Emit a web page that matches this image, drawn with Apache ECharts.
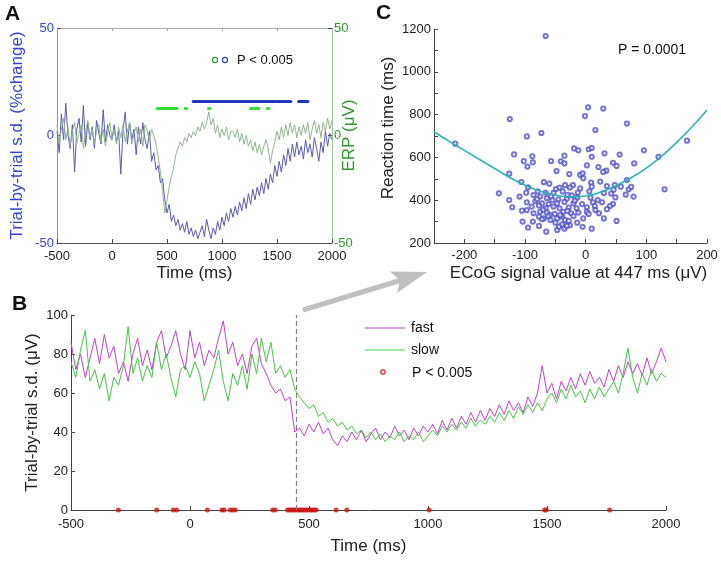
<!DOCTYPE html>
<html>
<head>
<meta charset="utf-8">
<script src="https://cdn.jsdelivr.net/npm/echarts@6/dist/echarts.min.js"></script>
<style>
  html, body { margin: 0; padding: 0; background: #fff; }
  #main { width: 721px; height: 562px; }
</style>
</head>
<body>
<div id="main"></div>
<script>
// ---- panel A : trial-by-trial s.d. (%change) and ERP, sampled every 20 ms from -500 ms
var startA = -500, stepA = 20;
var sdA = [
  2, -8, 10, -2, 15, 0, -6, 5, -17, 3,
  8, -3, 14, -5, 6, -2, 4, -6, 7, 1,
  -4, 12, -3, 5, 0, -2, 5, -3, 2, -18,
  2, 11, -4, 6, -2, 3, -9, 4, -4, 6,
  -2, -6, 2, -12, -8, -16, -14, -22, -20, -30,
  -36, -32, -40, -37, -42, -39, -44, -41, -45, -40,
  -46, -43, -47, -44, -48, -45, -42, -47, -39, -44,
  -48, -43, -46, -40, -44, -38, -42, -36, -40, -34,
  -38, -33, -37, -31, -35, -29, -34, -27, -32, -25,
  -30, -24, -28, -22, -27, -20, -25, -18, -22, -14,
  -19, -12, -17, -9, -14, -6, -12, -4, -10, -3,
  -9, -5, -11, -2, -8, -4, -10, -1, -6, -12,
  -3, -8, 2, -5, 1, -2
];
var erpA = [
  5, -4, 3, 8, -2, 4, -5, 2, 6, -3,
  1, 5, -6, 2, 7, -1, 3, -4, 2, 5,
  -3, 3, -5, 1, 6, -2, 3, -4, 4, -1,
  5, -3, 2, 6, -4, 1, 4, -3, 3, -5,
  5, 2, -2, 3, 0, -4, -10, -17, -26, -36,
  -30, -24, -19, -15, -9, -6, -3, -5, -1, -3,
  1, -1, 2, 0, 4, 2, 6, 3, 6, 11,
  5, 8, 1, 5, -1, 3, 0, 4, -2, 2,
  2, -1, 3, -3, 1, -4, 0, -5, -2, -7,
  -3, -8, -4, -9, -5, -2, -6, -13, -7, -3,
  2, -2, 4, -1, 5, 0, 6, 1, 5, -1,
  4, 0, 5, 1, 6, -2, 3, 7, 1, 5,
  -1, 6, 2, 8, 3, 7
];
// significant periods (ms) and the level they are drawn at
var sigErpA = [[411, 592], [665, 677], [878, 890], [1259, 1290], [1305, 1337], [1413, 1425]];
var sigSdA = [[738, 1488], [1504, 1625], [1697, 1782]];
var sigErpLevel = 12.7, sigSdLevel = 15.7;

// ---- panel C : ECoG value at 447 ms vs reaction time
var rtPoints = [
  [-66, 1167], [4, 834], [29, 828], [-1, 793], [-125, 779], [68, 758], [16, 728], [-73, 714],
  [-97, 698], [-215, 664], [167, 678], [96, 633], [-19, 642], [-12, 633], [5, 638], [10, 644],
  [-118, 614], [-35, 608], [31, 619], [56, 613], [10, 603], [120, 603], [-88, 605], [-102, 583],
  [-87, 577], [-57, 583], [-41, 582], [-35, 572], [2, 563], [21, 555], [34, 538], [45, 575],
  [51, 560], [80, 572], [-96, 557], [-126, 524], [-48, 536], [-27, 522], [-9, 518], [-5, 525],
  [29, 532], [-4, 502], [24, 487], [68, 494], [-69, 484], [-60, 477], [-21, 470], [-34, 470],
  [9, 482], [10, 463], [35, 466], [46, 449], [48, 470], [58, 463], [71, 451], [75, 462],
  [130, 451], [-49, 452], [-43, 459], [-26, 459], [-9, 455], [-13, 435], [-106, 485], [-95, 460],
  [-98, 435], [-79, 441], [-66, 435], [-53, 434], [-38, 441], [-23, 423], [6, 441], [30, 434],
  [42, 431], [66, 426], [-143, 432], [-126, 401], [-109, 417], [-86, 424], [-75, 417], [-64, 409],
  [-55, 401], [-45, 404], [-31, 407], [-14, 412], [8, 412], [20, 401], [49, 413], [79, 417],
  [-97, 390], [-83, 395], [-72, 385], [-61, 382], [-47, 384], [-35, 392], [-20, 385], [-6, 382],
  [12, 390], [27, 390], [45, 382], [-89, 370], [-77, 375], [-66, 362], [-53, 370], [-43, 362],
  [-28, 365], [-15, 362], [2, 367], [15, 373], [40, 373], [-121, 367], [-105, 351], [-97, 354],
  [-86, 339], [-75, 346], [-64, 342], [-51, 336], [-37, 346], [-24, 339], [-12, 342], [2, 345],
  [-77, 323], [-69, 315], [-59, 331], [-47, 315], [-39, 323], [-34, 308], [-20, 326], [-4, 315],
  [5, 336], [30, 315], [51, 303], [-87, 300], [-72, 311], [-50, 295], [-39, 287], [-28, 303],
  [-14, 295], [-104, 300], [-95, 272], [-77, 280], [-65, 253], [-47, 261], [-35, 267], [-26, 283],
  [-5, 276], [10, 267], [-31, 280], [-44, 276], [-58, 308], [16, 354], [22, 339], [35, 358],
  [-80, 405], [-57, 418], [-30, 425], [-18, 398], [-70, 355], [-42, 330], [-30, 350], [-62, 325]
];
// fitted curve, every 25 µV
var fitX = [-250, -225, -200, -175, -150, -125, -100, -75, -50, -25, 0, 25, 50, 75, 100, 125, 150, 175, 200];
var fitY = [720, 675, 633, 590, 548, 506, 470, 442, 424, 416, 420, 438, 468, 505, 550, 605, 670, 742, 822];

// ---- panel B : fast vs slow trials, sampled every 20 ms from -500 ms
var startB = -500, stepB = 20;
var fastB = [
  86, 72, 80, 68, 78, 88, 75, 90, 78, 84,
  70, 76, 66, 80, 88, 74, 82, 72, 86, 92,
  78, 84, 92, 80, 72, 92, 78, 86, 74, 82,
  78, 88, 97, 80, 86, 74, 80, 70, 84, 88,
  75, 70, 64, 60, 62, 56, 58, 40, 42, 38,
  44, 40, 45, 39, 42, 36, 33, 38, 35, 40,
  36, 41, 35, 39, 42, 36, 40, 37, 43, 38,
  41, 36, 42, 38, 43, 40, 44, 39, 46, 41,
  47, 42, 48, 44, 50, 45, 51, 46, 52, 48,
  54, 49, 56, 51, 55, 50, 58, 53, 60, 74,
  60, 65, 57, 66, 61, 68, 62, 70, 64, 71,
  65, 68, 63, 72, 66, 74, 68, 76, 70, 75,
  69, 78, 70, 76, 83, 76
];
var slowB = [
  76, 68, 82, 92, 66, 72, 62, 70, 56, 68,
  64, 74, 94, 70, 78, 66, 74, 68, 86, 72,
  80, 68, 58, 72, 74, 68, 76, 70, 56, 64,
  72, 82, 66, 56, 70, 64, 74, 62, 80, 70,
  88, 76, 86, 70, 74, 68, 72, 62, 58, 55,
  52, 54, 48, 50, 45, 47, 43, 45, 41, 43,
  39, 41, 37, 40, 36, 39, 35, 38, 36, 40,
  35, 38, 36, 40, 35, 38, 41, 38, 43, 40,
  44, 41, 45, 42, 47, 43, 46, 44, 48, 45,
  50, 46, 51, 47, 53, 49, 54, 50, 55, 51,
  57, 60, 55, 62, 57, 64, 58, 61, 55, 62,
  57, 63, 58, 62, 66, 60, 70, 83, 68, 60,
  70, 64, 72, 66, 70, 68
];
var sigTimesB = [-301, -140, -70, -56, 73, 134, 143, 169, 180, 190, 348, 358,
  410, 418, 426, 434, 442, 450, 458, 466, 474, 482, 490, 498, 506, 514, 522, 530,
  614, 659, 1005, 1490, 1497, 1763];
var markTime = 447;

var FONT = 'Liberation Sans, Arial, sans-serif';

function pairs(start, step, vals) {
  return vals.map(function (v, i) { return [start + i * step, v]; });
}
function segs(list, level) {
  return list.map(function (s) { return { coords: [[s[0], level], [s[1], level]] }; });
}
function plain(v) { return String(v); }

function xAx(grid, min, max, interval, name, extra) {
  var a = {
    type: 'value', gridIndex: grid, min: min, max: max, interval: interval,
    name: name, nameLocation: 'middle', nameGap: 22, nameMoveOverlap: false,
    nameTextStyle: { fontFamily: FONT, fontSize: 17, color: '#222' },
    axisLine: { onZero: false, lineStyle: { color: '#444', width: 1 } },
    axisTick: { inside: true, length: 4, lineStyle: { color: '#444' } },
    axisLabel: { fontFamily: FONT, fontSize: 13, color: '#222', margin: 7, formatter: plain },
    splitLine: { show: false }
  };
  return Object.assign(a, extra || {});
}
function yAx(grid, min, max, interval, name, gap, color, extra) {
  var a = {
    type: 'value', gridIndex: grid, min: min, max: max, interval: interval,
    name: name, nameLocation: 'middle', nameGap: gap, nameRotate: 90, nameMoveOverlap: false,
    nameTextStyle: { fontFamily: FONT, fontSize: 17, color: color },
    axisLine: { show: true, onZero: false, lineStyle: { color: '#444', width: 1 } },
    axisTick: { show: true, inside: true, length: 4, lineStyle: { color: '#444' } },
    axisLabel: { fontFamily: FONT, fontSize: 13, color: color, margin: 3, formatter: plain },
    splitLine: { show: false }
  };
  return Object.assign(a, extra || {});
}

var chart = echarts.init(document.getElementById('main'));
chart.setOption({
  animation: false,
  backgroundColor: '#fff',
  grid: [
    { left: 57, top: 28, width: 275, height: 215 },
    { left: 434, top: 29, width: 273, height: 214 },
    { left: 71, top: 315, width: 595, height: 195 }
  ],
  xAxis: [
    xAx(0, -500, 2000, 500, 'Time (ms)', { axisLine: { onZero: false, lineStyle: { color: '#555' } } }),
    xAx(0, -500, 2000, 500, '', { position: 'top', axisLabel: { show: false },
      axisLine: { onZero: false, lineStyle: { color: '#aaa' } },
      axisTick: { inside: true, length: 3, lineStyle: { color: '#aaa' } } }),
    xAx(1, -250, 200, 50, 'ECoG signal value at 447 ms (μV)', {
      axisLabel: { fontFamily: FONT, fontSize: 13, color: '#222', margin: 6,
        formatter: function (v) { return v % 100 === 0 ? String(v) : ''; } },
      nameTextStyle: { fontFamily: FONT, fontSize: 17, color: '#222', padding: [0, 0, 0, 16] } }),
    xAx(2, -500, 2000, 500, 'Time (ms)', { nameGap: 28,
      axisLabel: { fontFamily: FONT, fontSize: 13, color: '#222', margin: 8, formatter: plain } })
  ],
  yAxis: [
    yAx(0, -50, 50, 50, 'Trial-by-trial s.d. (%change)', 31, '#3344cc',
      { axisLine: { onZero: false, lineStyle: { color: '#8c8cd8' } } }),
    yAx(0, -50, 50, 50, 'ERP (μV)', 9, '#2e9a2e',
      { position: 'right', axisLine: { show: true, onZero: false, lineStyle: { color: '#9cc89c' } },
        axisLabel: { fontFamily: FONT, fontSize: 13, color: '#2e9a2e', margin: 2, formatter: plain } }),
    yAx(1, 200, 1200, 100, 'Reaction time (ms)', 37, '#222', {
      axisLabel: { fontFamily: FONT, fontSize: 13, color: '#222', margin: 3,
        formatter: function (v) { return v % 200 === 0 ? String(v) : ''; } },
      nameTextStyle: { fontFamily: FONT, fontSize: 17, color: '#222', padding: [0, 0, 0, 16] } }),
    yAx(2, 0, 100, 20, 'Trial-by-trial s.d. (μV)', 30, '#222')
  ],
  series: [
    { type: 'line', xAxisIndex: 0, yAxisIndex: 0, data: pairs(startA, stepA, sdA),
      showSymbol: false, lineStyle: { color: '#5b5bb0', width: 1 } },
    { type: 'line', xAxisIndex: 0, yAxisIndex: 1, data: pairs(startA, stepA, erpA),
      showSymbol: false, lineStyle: { color: '#8fb58f', width: 1 } },
    { type: 'lines', coordinateSystem: 'cartesian2d', xAxisIndex: 0, yAxisIndex: 0,
      data: segs(sigErpA, sigErpLevel), lineStyle: { color: '#33dd33', width: 3, opacity: 1, cap: 'round' } },
    { type: 'lines', coordinateSystem: 'cartesian2d', xAxisIndex: 0, yAxisIndex: 0,
      data: segs(sigSdA, sigSdLevel), lineStyle: { color: '#1f35c0', width: 3, opacity: 1, cap: 'round' } },
    { type: 'scatter', xAxisIndex: 2, yAxisIndex: 2, data: rtPoints, symbol: 'emptyCircle',
      symbolSize: 4.2, itemStyle: { color: '#5252c8', borderColor: '#5252c8', borderWidth: 0.8 } },
    { type: 'line', xAxisIndex: 2, yAxisIndex: 2, smooth: true, showSymbol: false,
      data: fitX.map(function (x, i) { return [x, fitY[i]]; }),
      lineStyle: { color: '#2ab3b3', width: 1.6 } },
    { type: 'line', xAxisIndex: 3, yAxisIndex: 3, data: pairs(startB, stepB, fastB),
      showSymbol: false, lineStyle: { color: '#c040c8', width: 1 },
      markLine: { silent: true, symbol: 'none', label: { show: false },
        lineStyle: { color: '#808080', type: [5, 3], width: 1.2 },
        data: [{ xAxis: markTime }] } },
    { type: 'line', xAxisIndex: 3, yAxisIndex: 3, data: pairs(startB, stepB, slowB),
      showSymbol: false, lineStyle: { color: '#44c444', width: 1 } },
    { type: 'scatter', xAxisIndex: 3, yAxisIndex: 3,
      data: sigTimesB.map(function (t) { return [t, 0]; }), symbol: 'circle', symbolSize: 5,
      itemStyle: { color: '#cc1414' } }
  ],
  graphic: [
    { type: 'text', left: 5, top: 4, style: { text: 'A', font: 'bold 21px ' + FONT, fill: '#111' } },
    { type: 'text', left: 376, top: 3, style: { text: 'C', font: 'bold 21px ' + FONT, fill: '#111' } },
    { type: 'text', left: 12, top: 294, style: { text: 'B', font: 'bold 21px ' + FONT, fill: '#111' } },
    // legend of panel A
    { type: 'circle', shape: { cx: 215, cy: 60, r: 2.6 }, style: { fill: 'none', stroke: '#3a9a3a', lineWidth: 1.2 } },
    { type: 'circle', shape: { cx: 225, cy: 60, r: 2.6 }, style: { fill: 'none', stroke: '#3344cc', lineWidth: 1.2 } },
    { type: 'text', x: 237, y: 60, style: { text: 'P < 0.005', font: '13px ' + FONT, fill: '#111', verticalAlign: 'middle' } },
    // panel C statistic
    { type: 'text', x: 618, y: 50, style: { text: 'P = 0.0001', font: '14px ' + FONT, fill: '#111', verticalAlign: 'middle' } },
    // legend of panel B
    { type: 'line', shape: { x1: 365, y1: 328, x2: 405, y2: 328 }, style: { stroke: '#c040c8', lineWidth: 1 } },
    { type: 'line', shape: { x1: 365, y1: 350, x2: 405, y2: 350 }, style: { stroke: '#44c444', lineWidth: 1 } },
    { type: 'circle', shape: { cx: 383, cy: 372, r: 2.2 }, style: { fill: 'none', stroke: '#e01a2a', lineWidth: 1.2 } },
    { type: 'text', x: 411, y: 328, style: { text: 'fast', font: '14px ' + FONT, fill: '#111', verticalAlign: 'middle' } },
    { type: 'text', x: 411, y: 350, style: { text: 'slow', font: '14px ' + FONT, fill: '#111', verticalAlign: 'middle' } },
    { type: 'text', x: 412, y: 373, style: { text: 'P < 0.005', font: '14px ' + FONT, fill: '#111', verticalAlign: 'middle' } },
    // grey arrow from B to C
    { type: 'line', shape: { x1: 303, y1: 310, x2: 400, y2: 280.5 }, style: { stroke: '#c0c0c0', lineWidth: 5 } },
    { type: 'polygon', shape: { points: [[427, 272], [390, 271.5], [400, 280.5], [397, 293]] },
      style: { fill: '#c0c0c0' } }
  ]
});
</script>
</body>
</html>
